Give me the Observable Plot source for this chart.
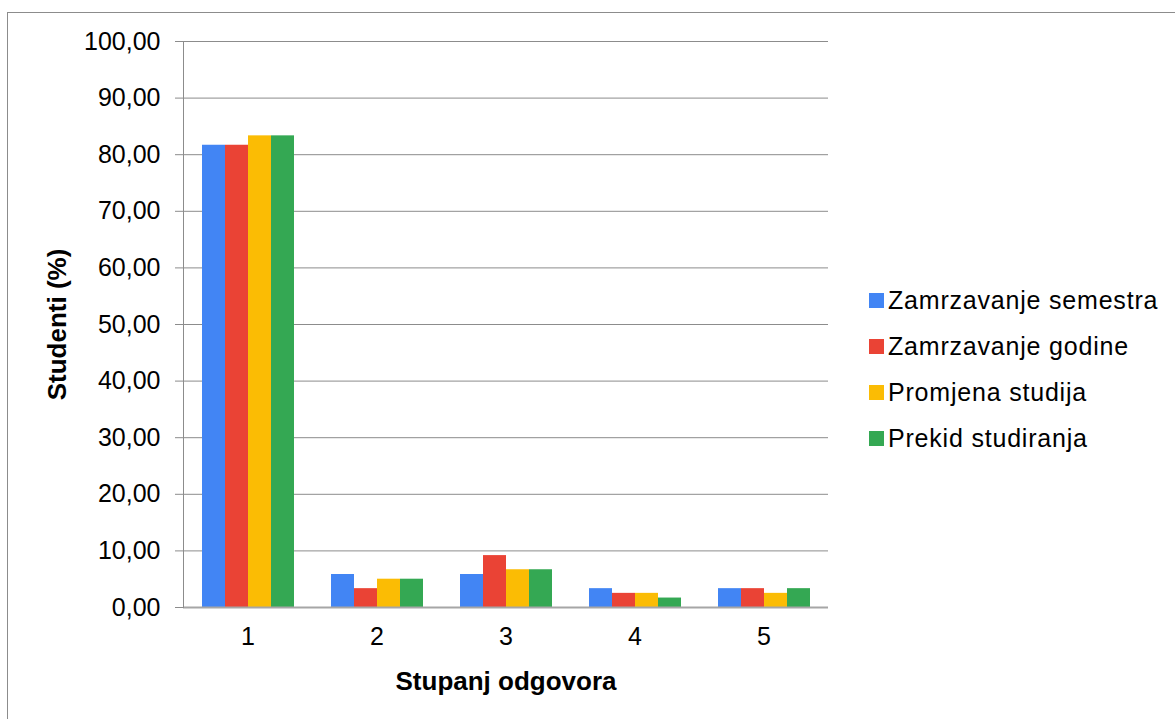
<!DOCTYPE html>
<html>
<head>
<meta charset="utf-8">
<script src="https://cdn.jsdelivr.net/npm/d3@7"></script>
<script src="https://cdn.jsdelivr.net/npm/@observablehq/plot@0.6"></script>
<style>
  html, body { margin: 0; padding: 0; background: #fff; }
  #wrap { position: relative; width: 1175px; height: 719px; overflow: hidden; font-family: "Liberation Sans", Arial, sans-serif; }
  #border { position: absolute; left: 7px; top: 12px; width: 1200px; height: 750px; border: 1px solid #8c8c8c; box-sizing: border-box; }
  #chart { position: absolute; left: 0; top: 0; }
  #legend { position: absolute; left: 869px; top: 277px; font-size: 25px; letter-spacing: 0.8px; color: #000; }
  #legend .item { display: flex; align-items: center; height: 46px; }
  #legend .sw { width: 15px; height: 15px; margin-right: 4px; }
</style>
</head>
<body>
<div id="wrap">
  <div id="border"></div>
  <div id="chart"></div>
  <div id="legend"></div>
</div>
<script>
const groups = ["1", "2", "3", "4", "5"];
const series = ["Zamrzavanje semestra", "Zamrzavanje godine", "Promjena studija", "Prekid studiranja"];
const colors = ["#4285F4", "#EA4335", "#FBBC04", "#34A853"];
const zamrzavanjeSemestra = [81.67, 5.83, 5.83, 3.33, 3.33];
const zamrzavanjeGodine   = [81.67, 3.33, 9.17, 2.50, 3.33];
const promjenaStudija     = [83.33, 5.00, 6.67, 2.50, 2.50];
const prekidStudiranja    = [83.33, 5.00, 6.67, 1.67, 3.33];
const yTicks = [0, 10, 20, 30, 40, 50, 60, 70, 80, 90, 100];

const seriesValues = [zamrzavanjeSemestra, zamrzavanjeGodine, promjenaStudija, prekidStudiranja];
const data = [];
groups.forEach((g, gi) => series.forEach((s, si) => data.push({group: g, series: s, value: seriesValues[si][gi]})));

const fmt = d => d.toFixed(2).replace(".", ",");

const chart = Plot.plot({
  width: 1175,
  height: 719,
  marginLeft: 183,
  marginRight: 347,
  marginTop: 41,
  marginBottom: 112,
  style: {fontFamily: "'Liberation Sans', Arial, sans-serif", fontSize: "25px", color: "#000", background: "transparent"},
  fx: {domain: groups, padding: 0},
  x: {domain: series, paddingInner: 0, paddingOuter: 0.775, axis: null},
  y: {domain: [0, 100]},
  color: {domain: series, range: colors},
  marks: [
    Plot.gridY(yTicks, {stroke: "#8c8c8c", strokeOpacity: 1, strokeWidth: 1}),
    Plot.barY(data, {fx: "group", x: "series", y: "value", fill: "series"}),
    Plot.ruleY([0], {stroke: "#a6a6a6", strokeWidth: 2}),
    Plot.frame({anchor: "left", facet: "super", stroke: "#8c8c8c", strokeOpacity: 1}),
    Plot.axisY(yTicks, {tickFormat: fmt, tickSize: 8, tickPadding: 15, stroke: "#8c8c8c", fontSize: 25,
      label: "Studenti (%)", labelArrow: "none", labelAnchor: "center", labelOffset: 136}),
    Plot.axisFx({anchor: "bottom", tickSize: 0, tickPadding: 20, fontSize: 25, label: "Stupanj odgovora", labelArrow: "none", labelAnchor: "center", labelOffset: 82})
  ]
});
document.getElementById("chart").appendChild(chart);

// bold axis titles
d3.select(chart).selectAll("[aria-label='y-axis label'] text, [aria-label='fx-axis label'] text")
  .style("font-weight", "bold").style("font-size", "26px");

const legend = d3.select("#legend");
series.forEach((s, i) => {
  const item = legend.append("div").attr("class", "item");
  item.append("div").attr("class", "sw").style("background", colors[i]);
  item.append("span").text(s);
});
</script>
</body>
</html>
